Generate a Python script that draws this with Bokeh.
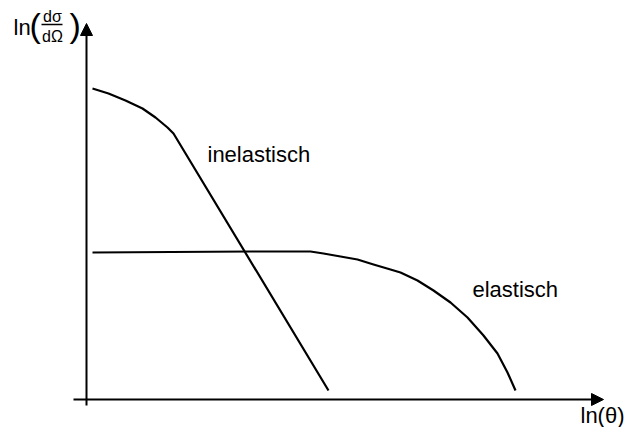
from bokeh.plotting import figure
from bokeh.models import Range1d, Arrow, NormalHead
from bokeh.core.properties import value
from bokeh.embed import file_html
from bokeh.resources import INLINE

# Schematic cross sections: ln(theta) on x, ln(dsigma/dOmega) on y (arbitrary units)
inel_theta = [6, 22, 39, 56, 69, 81, 87, 242]
inel_sigma = [311, 306, 299, 291, 282, 272, 266, 9]

el_theta = [6, 164, 204, 224, 237, 254, 271, 287, 304, 314, 331, 347, 364, 381, 397, 411, 421, 429]
el_sigma = [147, 148, 148, 148, 146, 143, 140, 135, 130, 127, 119, 109, 97, 82, 64, 46, 27, 9]

curve_labels = ["inelastisch", "elastisch"]
label_theta = [121, 386]
label_sigma = [245, 110]

FONT = value("Liberation Sans")

p = figure(width=624, height=427, x_range=Range1d(-86, 538), y_range=Range1d(-28, 399),
           x_axis_type=None, y_axis_type=None, toolbar_location=None,
           output_backend="svg", min_border=0, outline_line_color=None,
           background_fill_color="white", border_fill_color="white")

# axes drawn as arrows
p.add_layout(Arrow(x_start=-13, y_start=0, x_end=517, y_end=0, line_width=2, line_color="black",
                   end=NormalHead(size=12, fill_color="black", line_color="black", line_width=1)))
p.add_layout(Arrow(x_start=0, y_start=-6, x_end=0, y_end=376, line_width=2, line_color="black",
                   end=NormalHead(size=12, fill_color="black", line_color="black", line_width=1)))

p.line(inel_theta, inel_sigma, line_width=2.2, line_color="black", line_join="round")
p.line(el_theta, el_sigma, line_width=2.2, line_color="black", line_join="round")

p.text(label_theta, label_sigma, text=curve_labels, text_font=FONT, text_font_size="22px",
       text_baseline="alphabetic", text_align="left", text_color="black")

# x axis title
p.text([494], [-16], text=["ln(θ)"], text_font=FONT, text_font_size="22px",
       text_baseline="alphabetic", text_align="left", text_color="black")

# y axis title: ln( dσ / dΩ )
p.text([-73], [372], text=["ln"], text_font=FONT, text_font_size="22px",
       text_baseline="alphabetic", text_align="left", text_color="black")
p.text([-57, -17], [375, 375], text=["(", ")"], text_font=FONT, text_font_size="34px",
       text_baseline="alphabetic", text_align="left", text_color="black")
p.text([-34, -34], [383, 363], text=["dσ", "dΩ"], text_font=FONT, text_font_size="16px",
       text_baseline="alphabetic", text_align="center", text_color="black")
p.segment([-45], [375], [-24], [375], line_width=1.5, line_color="black")

open("out.html", "w").write(file_html(p, INLINE))
